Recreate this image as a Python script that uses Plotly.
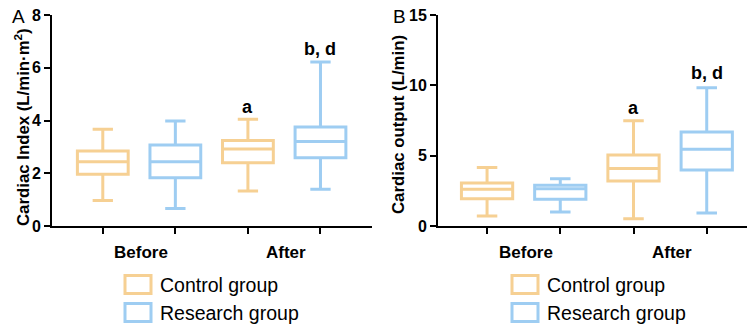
import plotly.graph_objects as go

W, H = 749, 326

# ---- data ----
groups = ["Control group", "Research group"]
periods = ["Before", "After"]
# Panel A: Cardiac Index, [Before, After]
ci_control = dict(lower=[0.97, 1.33], q1=[1.96, 2.40], median=[2.44, 2.92], q3=[2.84, 3.24], upper=[3.67, 4.05])
ci_research = dict(lower=[0.66, 1.39], q1=[1.83, 2.59], median=[2.44, 3.20], q3=[3.07, 3.75], upper=[3.98, 6.22])
# Panel B: Cardiac output, [Before, After]
co_control = dict(lower=[0.71, 0.52], q1=[1.94, 3.20], median=[2.61, 4.08], q3=[3.06, 5.05], upper=[4.15, 7.49])
co_research = dict(lower=[1.00, 0.92], q1=[1.90, 3.98], median=[2.65, 5.45], q3=[2.89, 6.68], upper=[3.36, 9.83])
ci_marks = ["a", "b, d"]
ci_mark_y = [4.5, 6.7]
co_marks = ["a", "b, d"]
co_mark_y = [8.4, 10.85]
ci_ticks = [0, 2, 4, 6, 8]
co_ticks = [0, 5, 10, 15]
ci_title = "Cardiac Index (L/min·m<sup>2</sup>)"
co_title = "Cardiac output (L/min)"

ORANGE = "#F6D093"
BLUE = "#9ECDF2"
FONT = "Liberation Sans, Arial, sans-serif"

def px(x):
    return x / W

def py(y):
    return 1 - y / H

fig = go.Figure()

ctrl_pos = [0, 2]
res_pos = [1, 3]

def add_boxes(d, pos, color, xa, ya, name):
    fig.add_trace(go.Box(
        x=pos, q1=d["q1"], median=d["median"], q3=d["q3"],
        lowerfence=d["lower"], upperfence=d["upper"],
        width=0.7, whiskerwidth=0.4, boxpoints=False,
        line=dict(color=color, width=3), fillcolor="rgba(0,0,0,0)",
        xaxis=xa, yaxis=ya, name=name, showlegend=False,
    ))

add_boxes(ci_control, ctrl_pos, ORANGE, "x", "y", groups[0])
add_boxes(ci_research, res_pos, BLUE, "x", "y", groups[1])
add_boxes(co_control, ctrl_pos, ORANGE, "x2", "y2", groups[0])
add_boxes(co_research, res_pos, BLUE, "x2", "y2", groups[1])

axis_common = dict(showline=True, linecolor="black", linewidth=2, ticks="outside",
                   ticklen=6, tickwidth=2, tickcolor="black", showgrid=False, zeroline=False,
                   automargin=False)

fig.update_layout(
    width=W, height=H, margin=dict(l=0, r=0, t=0, b=0, autoexpand=False),
    paper_bgcolor="white", plot_bgcolor="white",
    font=dict(family=FONT, color="black"),
    xaxis=dict(domain=[px(52), px(372)], range=[-0.7, 3.71], tickvals=[0, 1, 2, 3],
               showticklabels=False, anchor="y", **axis_common),
    yaxis=dict(domain=[py(226), py(15)], range=[0, 8], tickvals=ci_ticks, anchor="x",
               tickfont=dict(size=16, family=FONT, weight="bold"), **axis_common),
    xaxis2=dict(domain=[px(438), px(747)], range=[-0.67, 3.55], tickvals=[0, 1, 2, 3],
                showticklabels=False, anchor="y2", **axis_common),
    yaxis2=dict(domain=[py(226), py(15)], range=[0, 15], tickvals=co_ticks, anchor="x2",
                tickfont=dict(size=16, family=FONT, weight="bold"), **axis_common),
)

ann = []
# y-axis titles
ann.append(dict(text="<b>%s</b>" % ci_title, x=px(21.5), y=py(127.5), xref="paper", yref="paper",
                textangle=-90, showarrow=False, font=dict(size=16.8), xanchor="center", yanchor="middle"))
ann.append(dict(text="<b>%s</b>" % co_title, x=px(398), y=py(125), xref="paper", yref="paper",
                textangle=-90, showarrow=False, font=dict(size=16.8), xanchor="center", yanchor="middle"))
# panel letters
ann.append(dict(text="A", x=px(10), y=py(16), xref="paper", yref="paper", xanchor="left", yanchor="middle",
                showarrow=False, font=dict(size=19)))
ann.append(dict(text="B", x=px(391), y=py(16), xref="paper", yref="paper", xanchor="left", yanchor="middle",
                showarrow=False, font=dict(size=19)))
# period labels
for xr in ["x", "x2"]:
    for p, xp in zip(periods, [0.53, 2.53]):
        ann.append(dict(text="<b>%s</b>" % p, x=xp, y=py(252), xref=xr, yref="paper",
                        showarrow=False, font=dict(size=17), xanchor="center", yanchor="middle"))
# significance marks
for m, yv, xp in zip(ci_marks, ci_mark_y, [2, 3]):
    ann.append(dict(text="<b>%s</b>" % m, x=xp, y=yv, xref="x", yref="y", showarrow=False,
                    font=dict(size=18), yanchor="middle"))
for m, yv, xp in zip(co_marks, co_mark_y, [2, 3]):
    ann.append(dict(text="<b>%s</b>" % m, x=xp, y=yv, xref="x2", yref="y2", showarrow=False,
                    font=dict(size=18), yanchor="middle"))

# manual legends
shapes = []
for off in [0, 387]:
    for g, col, yc in zip(groups, [ORANGE, BLUE], [284.5, 312.5]):
        shapes.append(dict(type="rect", xref="paper", yref="paper",
                           x0=px(125 + off), x1=px(151 + off), y0=py(yc - 9), y1=py(yc + 9),
                           line=dict(color=col, width=3), fillcolor="white"))
        ann.append(dict(text=g, x=px(158 + off), y=py(yc), xref="paper", yref="paper",
                        xanchor="left", yanchor="middle", showarrow=False, font=dict(size=19.5)))

fig.update_layout(annotations=ann, shapes=shapes)
fig.write_html("out.html", config={"displayModeBar": False},
               post_script="document.body.style.margin='0';document.body.style.overflow='hidden';")
